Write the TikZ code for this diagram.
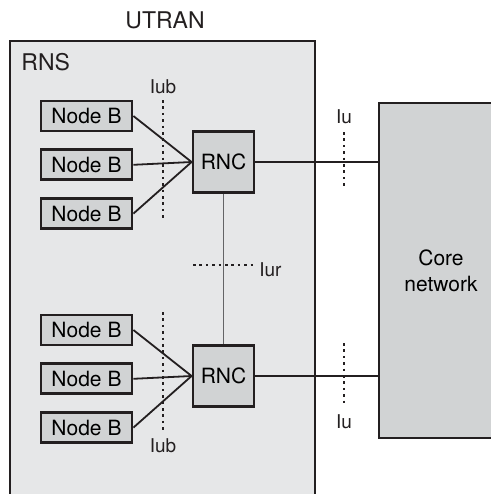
\documentclass[tikz,border=0pt]{standalone}
\usepackage{fontspec}
\setmainfont{TeX Gyre Heros}
\usepackage{tikz}
\usetikzlibrary{positioning, calc}
\definecolor{InkGray}{RGB}{35,31,32}
\definecolor{PaleGray}{RGB}{230,231,232}
\definecolor{BoxGray}{RGB}{209,211,212}
\definecolor{LinkGray}{RGB}{100,100,102}

\begin{document}
\begin{tikzpicture}[
  x=0.5pt, y=-0.5pt,
  nodeb/.style={draw=InkGray, fill=BoxGray, line width=1.4pt,
                minimum width=45.5pt, minimum height=15pt, inner sep=0pt,
                font=\fontsize{10.5}{12}\selectfont},
  rnc/.style={draw=InkGray, fill=BoxGray, line width=1.4pt,
              minimum size=30.5pt, inner sep=0pt,
              font=\fontsize{10.5}{12}\selectfont},
  core/.style={draw=InkGray, fill=BoxGray, line width=1.2pt,
               minimum width=62pt, minimum height=167.5pt, inner sep=0pt,
               align=center, font=\fontsize{10.5}{13}\selectfont},
  link/.style={draw=InkGray, line width=0.9pt},
  iface/.style={draw=InkGray, line width=1.3pt,
                dash pattern=on 1.3pt off 1.9pt},
  tag/.style={font=\fontsize{9.5}{11}\selectfont, text=InkGray, inner sep=0pt},
]
\useasboundingbox (0,0) rectangle (491,494);
\clip (0,0) rectangle (491,494);

% RNS area
\draw[InkGray, fill=PaleGray, line width=1.1pt] (10,41) rectangle (315,520);
\node[font=\fontsize{11.5}{14}\selectfont, text=InkGray] (utran) at (165,20) {UTRAN};
\node[font=\fontsize{11.5}{14}\selectfont, text=InkGray, anchor=west, inner sep=0pt]
  (rns) at (21,62) {RNS};

% upper group
\node[nodeb] (nbA) at (86.5,116) {Node B};
\node[nodeb, below=8pt of nbA] (nbB) {Node B};
\node[nodeb, below=8pt of nbB] (nbC) {Node B};
\node[rnc] (rncA) at (223.5,162) {RNC};

% lower group
\node[nodeb] (nbD) at (86.5,330) {Node B};
\node[nodeb, below=8pt of nbD] (nbE) {Node B};
\node[nodeb, below=8pt of nbE] (nbF) {Node B};
\node[rnc] (rncB) at (223.5,376) {RNC};

% core network
\node[core] (core) at (441,270.5) {Core\\network};

% links
\foreach \nb in {nbA,nbB,nbC}
  \draw[link] (\nb.east) -- (rncA.west);
\foreach \nb in {nbD,nbE,nbF}
  \draw[link] (\nb.east) -- (rncB.west);
\draw[link, line width=1.2pt] (rncA.east) -- (rncA.east -| core.west);
\draw[link, line width=1.2pt] (rncB.east) -- (rncB.east -| core.west);
\draw[LinkGray, line width=0.9pt] (rncA.south) -- (rncB.north);

% interfaces
\coordinate (iubA1) at (163,100);
\coordinate (iubA2) at (163,218);
\coordinate (iubB1) at (163,312);
\coordinate (iubB2) at (163,430);
\coordinate (iur1) at (193,265);
\coordinate (iur2) at (253,265);
\coordinate (iuA1) at (344,132);
\coordinate (iuA2) at (344,189);
\coordinate (iuB1) at (344,343);
\coordinate (iuB2) at (344,403);
\draw[iface] (iubA1) -- (iubA2);
\draw[iface] (iubB1) -- (iubB2);
\draw[iface] (iur1) -- (iur2);
\draw[iface] (iuA1) -- (iuA2);
\draw[iface] (iuB1) -- (iuB2);

\node[tag] (iubAtag) at (163,87) {Iub};
\node[tag] (iubBtag) at (163,446) {Iub};
\node[tag, anchor=west] (iurtag) at (259,270) {Iur};
\node[tag] (iuAtag) at (344,117) {Iu};
\node[tag] (iuBtag) at (344,422) {Iu};
\end{tikzpicture}
\end{document}
